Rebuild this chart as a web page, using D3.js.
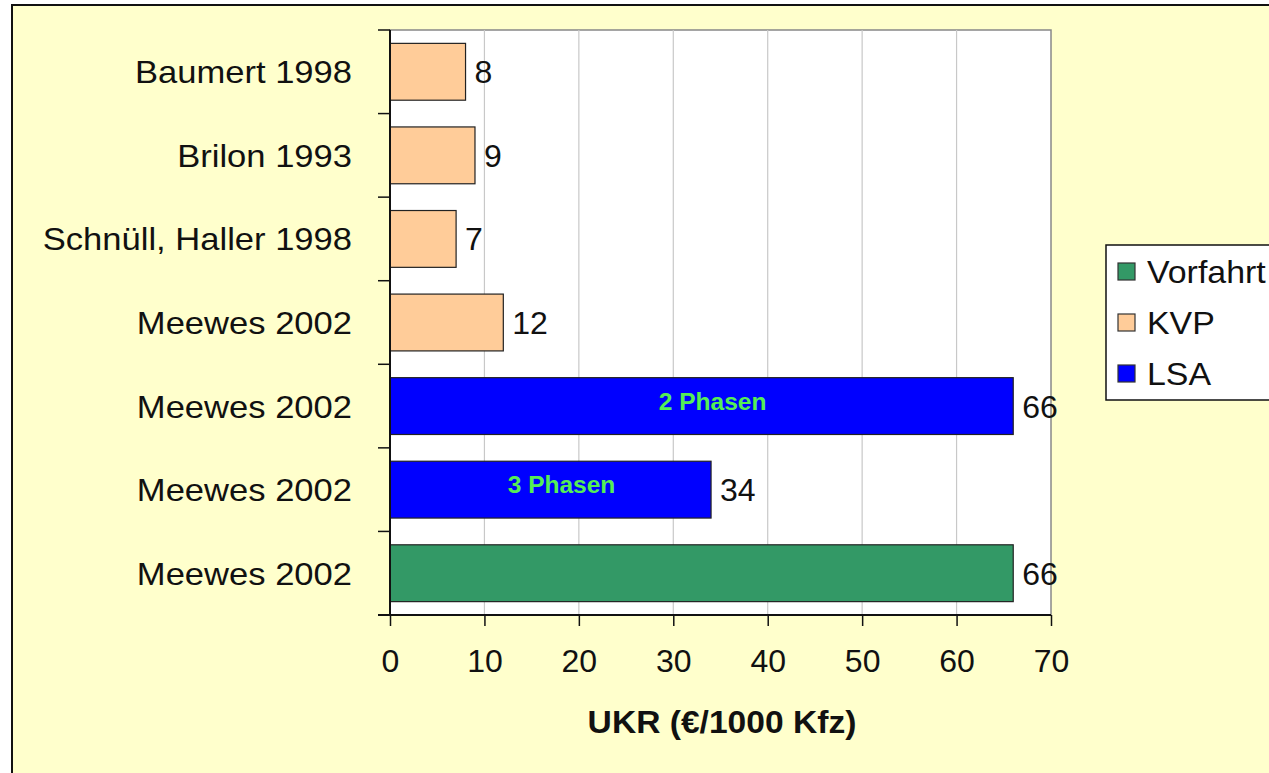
<!DOCTYPE html>
<html><head><meta charset="utf-8">
<script src="https://cdn.jsdelivr.net/npm/d3@7"></script>
<style>body{margin:0;background:#fff;}svg{display:block;}</style>
</head><body>
<script>
const categories = ["Baumert 1998","Brilon 1993","Schnüll, Haller 1998","Meewes 2002","Meewes 2002","Meewes 2002","Meewes 2002"];
const values = [8, 9, 7, 12, 66, 34, 66];
const groups = ["KVP","KVP","KVP","KVP","LSA","LSA","Vorfahrt"];
const innerLabels = ["","","","","2 Phasen","3 Phasen",""];
const legendItems = ["Vorfahrt","KVP","LSA"];
const legendColors = {"Vorfahrt":"#339966","KVP":"#FFCC99","LSA":"#0000FF"};
const xTicks = [0,10,20,30,40,50,60,70];
const xTitle = "UKR (€/1000 Kfz)";

const W = 1269, H = 773;
const svg = d3.select("body").append("svg").attr("width", W).attr("height", H);
const font = "'Liberation Sans', Arial, sans-serif";
const FS = 32;

svg.append("rect").attr("x",12).attr("y",5).attr("width",1300).attr("height",800)
  .attr("fill","#FFFFCC").attr("stroke","#111").attr("stroke-width",2);

const L = 390, R = 1051, T = 30, B = 615;
const x = d3.scaleLinear().domain([0,70]).range([L,R]);
const idx = d3.range(categories.length);
const y = d3.scaleBand().domain(idx).range([T,B]).paddingInner(0.32).paddingOuter(0.16);

svg.append("rect").attr("x",L).attr("y",T).attr("width",R-L).attr("height",B-T)
  .attr("fill","#fff").attr("stroke","#888").attr("stroke-width",1.5);

svg.append("g").selectAll("line").data(xTicks.slice(1,-1)).join("line")
  .attr("x1",d=>x(d)).attr("x2",d=>x(d)).attr("y1",T).attr("y2",B)
  .attr("stroke","#c8c8c8").attr("stroke-width",1.2);

// bars
svg.append("g").selectAll("rect").data(idx).join("rect")
  .attr("x",x(0)).attr("y",i=>y(i)).attr("width",i=>x(values[i])-x(0)).attr("height",y.bandwidth())
  .attr("fill",i=>legendColors[groups[i]]).attr("stroke","#222").attr("stroke-width",1.2);

// value labels
svg.append("g").selectAll("text").data(idx).join("text")
  .attr("x",i=>x(values[i])+9).attr("y",i=>y(i)+y.bandwidth()/2).attr("dy","0.36em")
  .attr("font-family",font).attr("font-size",FS).attr("fill","#111").text(i=>values[i]);

// inner labels
svg.append("g").selectAll("text").data(idx.filter(i=>innerLabels[i])).join("text")
  .attr("x",i=>(x(0)+x(values[i]))/2 + 11).attr("y",i=>y(i)+y.bandwidth()/2 - 5).attr("dy","0.36em")
  .attr("text-anchor","middle").attr("font-family",font)
  .attr("font-weight","bold").attr("font-size",24.5).attr("fill","#55EE55").text(i=>innerLabels[i]);

// x axis
const xAxis = d3.axisBottom(x).tickValues(xTicks).tickSize(11).tickPadding(23).tickSizeOuter(0);
const gx = svg.append("g").attr("transform",`translate(0,${B})`).call(xAxis);
gx.select(".domain").attr("stroke","#111").attr("stroke-width",2).attr("d",`M${L-12},0H${R}`);
gx.selectAll(".tick line").attr("stroke","#111").attr("stroke-width",1.5);
gx.selectAll("text").attr("font-family",font).attr("font-size",FS).attr("fill","#111");

// y axis
const yEdges = d3.range(categories.length+1).map(i=>T + i*(B-T)/categories.length);
svg.append("line").attr("x1",L).attr("x2",L).attr("y1",T).attr("y2",B).attr("stroke","#111").attr("stroke-width",2);
svg.append("g").selectAll("line").data(yEdges).join("line")
  .attr("x1",L-12).attr("x2",L).attr("y1",d=>d).attr("y2",d=>d).attr("stroke","#111").attr("stroke-width",1.5);
svg.append("g").selectAll("text").data(idx).join("text")
  .attr("transform",i=>`translate(${L-38},${y(i)+y.bandwidth()/2}) scale(1.08,1)`).attr("dy","0.36em").attr("text-anchor","end")
  .attr("font-family",font).attr("font-size",FS).attr("fill","#111").text(i=>categories[i]);

// x title
svg.append("text").attr("transform","translate(722,733) scale(1.05,1)").attr("text-anchor","middle")
  .attr("font-family",font).attr("font-weight","bold").attr("font-size",FS).attr("fill","#111").text(xTitle);

// legend
const lg = svg.append("g");
lg.append("rect").attr("x",1106).attr("y",245).attr("width",200).attr("height",155)
  .attr("fill","#fff").attr("stroke","#111").attr("stroke-width",1.5);
legendItems.forEach((k,i)=>{
  const cy = 271 + i*51;
  lg.append("rect").attr("x",1118).attr("y",cy-8).attr("width",17).attr("height",17)
    .attr("fill",legendColors[k]).attr("stroke","#333").attr("stroke-width",1.2);
  lg.append("text").attr("transform",`translate(1147,${cy}) scale(1.06,1)`).attr("dy","0.36em")
    .attr("font-family",font).attr("font-size",FS).attr("fill","#111").text(k);
});
</script>
</body></html>
